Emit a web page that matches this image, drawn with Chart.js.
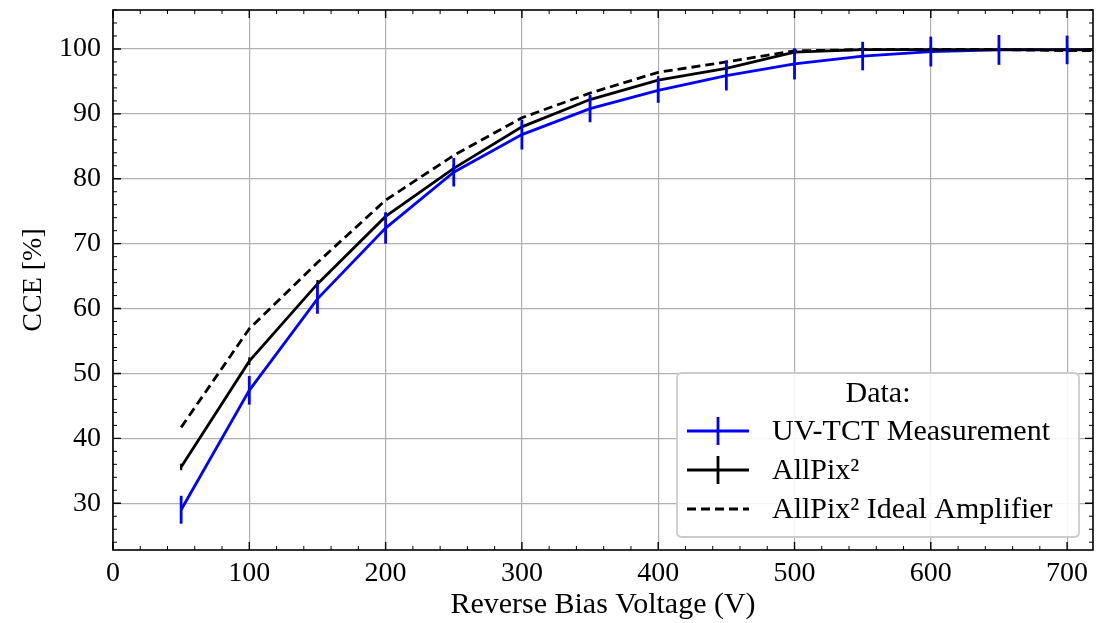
<!DOCTYPE html>
<html>
<head>
<meta charset="utf-8">
<script src="https://cdn.jsdelivr.net/npm/chart.js@4.4.1/dist/chart.umd.min.js"></script>
<style>
  html, body { margin: 0; padding: 0; background: #ffffff; }
  #wrap { width: 1102px; height: 623px; }
</style>
</head>
<body>
<div id="wrap"><canvas id="c" width="1102" height="623"></canvas></div>
<script>
// ---- data ----
const voltages   = [50, 100, 150, 200, 250, 300, 350, 400, 450, 500, 550, 600, 650, 700, 750];
const uvTct      = [29.0, 47.4, 61.5, 72.4, 81.0, 86.8, 90.8, 93.6, 95.9, 97.7, 98.9, 99.6, 99.85, 99.85, 99.85];
const uvTctErr   = [2.15, 2.2, 2.3, 2.4, 2.2, 2.3, 2.1, 1.9, 2.3, 2.4, 2.2, 2.3, 2.3, 2.2, 2.2];
const allpix     = [35.6, 51.9, 63.8, 74.2, 81.6, 88.0, 92.2, 95.2, 97.0, 99.5, 99.9, 99.9, 99.9, 99.9, 99.9];
const allpixErr  = [0.5, 0.6, 0.6, 0.6, 0.6, 0.6, 0.6, 0.6, 0.6, 0.5, 0.5, 0.5, 0.5, 0.5, 0.5];
const ideal      = [41.7, 56.9, 67.1, 76.7, 83.6, 89.4, 93.2, 96.4, 98.0, 99.7, 99.9, 99.95, 99.9, 99.75, 99.7];

const xTicksMajor = [0, 100, 200, 300, 400, 500, 600, 700];
const yTicksMajor = [30, 40, 50, 60, 70, 80, 90, 100];
const seriesLabels = ['UV-TCT Measurement', 'AllPix\u00B2', 'AllPix\u00B2 Ideal Amplifier'];
const legendTitle = 'Data:';

const FONT = '"Liberation Serif", "DejaVu Serif", serif';
const BLUE = '#0000ff';
const LW = 2.8;

function pts(vals) { return voltages.map((v, i) => ({ x: v, y: vals[i] })); }

const errMap = { 0: { err: uvTctErr, vals: uvTct, color: BLUE, w: 2.8 },
                 1: { err: allpixErr, vals: allpix, color: '#000000', w: 2.2 } };

const errorBarPlugin = {
  id: 'errbars',
  afterDatasetDraw(chart, args) {
    const e = errMap[args.index];
    if (!e) return;
    const { ctx, chartArea, scales } = chart;
    ctx.save();
    ctx.beginPath();
    ctx.rect(chartArea.left, chartArea.top, chartArea.right - chartArea.left, chartArea.bottom - chartArea.top);
    ctx.clip();
    ctx.strokeStyle = e.color;
    ctx.lineWidth = e.w;
    voltages.forEach((v, i) => {
      const px = scales.x.getPixelForValue(v);
      const y1 = scales.y.getPixelForValue(e.vals[i] - e.err[i]);
      const y2 = scales.y.getPixelForValue(e.vals[i] + e.err[i]);
      ctx.beginPath();
      ctx.moveTo(px, y1);
      ctx.lineTo(px, y2);
      ctx.stroke();
    });
    ctx.restore();
  }
};

const framePlugin = {
  id: 'frame',
  afterDatasetsDraw(chart) {
    const { ctx, chartArea: a, scales } = chart;
    ctx.save();
    ctx.strokeStyle = '#000';
    const drawX = (v, len, w) => {
      const px = scales.x.getPixelForValue(v);
      ctx.lineWidth = w;
      ctx.beginPath();
      ctx.moveTo(px, a.bottom); ctx.lineTo(px, a.bottom - len);
      ctx.moveTo(px, a.top); ctx.lineTo(px, a.top + len);
      ctx.stroke();
    };
    const drawY = (v, len, w) => {
      const py = scales.y.getPixelForValue(v);
      ctx.lineWidth = w;
      ctx.beginPath();
      ctx.moveTo(a.left, py); ctx.lineTo(a.left + len, py);
      ctx.moveTo(a.right, py); ctx.lineTo(a.right - len, py);
      ctx.stroke();
    };
    const xMin = scales.x.min, xMax = scales.x.max, yMin = scales.y.min, yMax = scales.y.max;
    for (let v = 0; v <= xMax + 1e-9; v += 20) {
      if (v < xMin) continue;
      if (v % 100 !== 0) drawX(v, 4, 1);
    }
    xTicksMajor.forEach(v => drawX(v, 8, 1.4));
    for (let v = Math.ceil(yMin / 2) * 2; v <= yMax; v += 2) {
      if (v % 10 !== 0) drawY(v, 4, 1);
    }
    yTicksMajor.forEach(v => drawY(v, 8, 1.4));
    ctx.lineWidth = 1.6;
    ctx.strokeRect(a.left, a.top, a.right - a.left, a.bottom - a.top);
    ctx.restore();
  }
};

const legendPlugin = {
  id: 'customLegend',
  afterDraw(chart) {
    const { ctx, chartArea: a } = chart;
    const w = 402, h = 164;
    const x0 = a.right - 14 - w, y0 = a.bottom - 13 - h;
    ctx.save();
    const r = 5;
    ctx.beginPath();
    ctx.moveTo(x0 + r, y0);
    ctx.lineTo(x0 + w - r, y0); ctx.quadraticCurveTo(x0 + w, y0, x0 + w, y0 + r);
    ctx.lineTo(x0 + w, y0 + h - r); ctx.quadraticCurveTo(x0 + w, y0 + h, x0 + w - r, y0 + h);
    ctx.lineTo(x0 + r, y0 + h); ctx.quadraticCurveTo(x0, y0 + h, x0, y0 + h - r);
    ctx.lineTo(x0, y0 + r); ctx.quadraticCurveTo(x0, y0, x0 + r, y0);
    ctx.closePath();
    ctx.fillStyle = 'rgba(255,255,255,0.9)';
    ctx.fill();
    ctx.strokeStyle = '#cccccc';
    ctx.lineWidth = 1.8;
    ctx.stroke();
    ctx.fillStyle = '#000';
    ctx.font = '30px ' + FONT;
    ctx.textAlign = 'center';
    ctx.textBaseline = 'middle';
    ctx.fillText(legendTitle, x0 + w / 2, y0 + 21);
    const hx0 = x0 + 10, hx1 = x0 + 72, hxm = (hx0 + hx1) / 2;
    const rows = [y0 + 58, y0 + 97, y0 + 136];
    const styles = [
      { color: BLUE, dash: [], bar: true },
      { color: '#000', dash: [], bar: true },
      { color: '#000', dash: [9, 5], bar: false }
    ];
    ctx.textAlign = 'left';
    rows.forEach((ry, i) => {
      const s = styles[i];
      ctx.strokeStyle = s.color;
      ctx.lineWidth = LW;
      ctx.setLineDash(s.dash);
      ctx.beginPath();
      ctx.moveTo(hx0, ry); ctx.lineTo(hx1, ry);
      ctx.stroke();
      ctx.setLineDash([]);
      if (s.bar) {
        ctx.beginPath();
        ctx.moveTo(hxm, ry - 14); ctx.lineTo(hxm, ry + 14);
        ctx.stroke();
      }
      ctx.fillStyle = '#000';
      ctx.fillText(seriesLabels[i], x0 + 95, ry + 1);
    });
    ctx.restore();
  }
};

new Chart(document.getElementById('c'), {
  type: 'line',
  data: {
    datasets: [
      { label: seriesLabels[1], data: pts(allpix), borderColor: '#000', borderWidth: LW,
        pointRadius: 0, fill: false, tension: 0, order: 1, clip: 0 },
      { label: seriesLabels[2], data: pts(ideal), borderColor: '#000', borderWidth: LW,
        borderDash: [9, 5], pointRadius: 0, fill: false, tension: 0, order: 2, clip: 0 },
      { label: seriesLabels[0], data: pts(uvTct), borderColor: BLUE, borderWidth: LW,
        pointRadius: 0, fill: false, tension: 0, order: 3, clip: 0 }
    ]
  },
  options: {
    responsive: false,
    animation: false,
    devicePixelRatio: 1,
    layout: { padding: { left: 0, right: 9, top: 10, bottom: 0 } },
    plugins: { legend: { display: false }, tooltip: { enabled: false } },
    scales: {
      x: {
        type: 'linear', min: 0, max: 719,
        afterBuildTicks(scale) { scale.ticks = xTicksMajor.map(v => ({ value: v })); },
        afterFit(scale) { scale.height = 73; scale.paddingLeft = 0; scale.paddingRight = 0; },
        ticks: { color: '#000', font: { family: FONT, size: 28 }, padding: 7, maxRotation: 0 },
        grid: { color: '#b0b0b0', lineWidth: 1.2, drawTicks: false },
        border: { display: false },
        title: { display: true, text: 'Reverse Bias Voltage (V)', color: '#000',
                 font: { family: FONT, size: 30 }, padding: { top: 0, bottom: 0 } }
      },
      y: {
        type: 'linear', min: 22.8, max: 106,
        afterBuildTicks(scale) { scale.ticks = yTicksMajor.map(v => ({ value: v })); },
        afterFit(scale) { scale.width = 113; scale.paddingTop = 0; scale.paddingBottom = 0; },
        ticks: { color: '#000', font: { family: FONT, size: 28 }, padding: 12 },
        grid: { color: '#b0b0b0', lineWidth: 1.2, drawTicks: false },
        border: { display: false },
        title: { display: true, text: 'CCE [%]', color: '#000',
                 font: { family: FONT, size: 28 }, padding: { top: 17, bottom: 0 } }
      }
    }
  },
  plugins: [errorBarPlugin, framePlugin, legendPlugin]
});
</script>
</body>
</html>
